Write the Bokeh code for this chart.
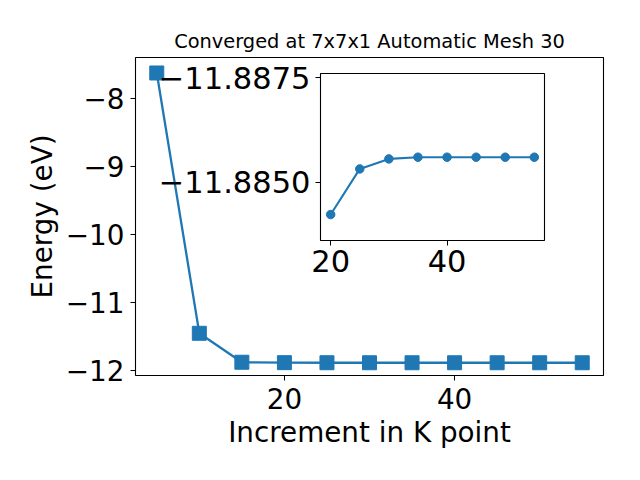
from bokeh.plotting import figure
from bokeh.layouts import row
from bokeh.models import Range1d, FixedTicker, CustomJSTickFormatter
from bokeh.embed import file_html
from bokeh.resources import INLINE

# Data
k_points = [5, 10, 15, 20, 25, 30, 35, 40, 45, 50, 55]
energies = [-7.622, -11.452, -11.878, -11.88423, -11.88532, -11.88556,
            -11.8856, -11.8856, -11.8856, -11.8856, -11.8856]
inset_k = [k for k in k_points if k >= 20]
inset_e = [e for k, e in zip(k_points, energies) if k >= 20]

main_yticks = [-12, -11, -10, -9, -8]
main_xticks = [20, 40]
inset_yticks = [-11.8875, -11.8850]
inset_xticks = [20, 40]

title_text = "Converged at 7x7x1 Automatic Mesh 30"
xlabel = "Increment in K point"
ylabel = "Energy (eV)"

BLUE = "#1f77b4"
FONT = "DejaVu Sans"


def style_axes(fig, tick_px="27.8px"):
    for ax in (fig.xaxis[0], fig.yaxis[0]):
        ax.major_label_text_font = FONT
        ax.major_label_text_font_size = tick_px
        ax.major_label_text_color = "black"
        ax.axis_label_text_font = FONT
        ax.axis_label_text_font_size = "27.8px"
        ax.axis_label_text_font_style = "normal"
        ax.axis_label_text_color = "black"
        ax.major_tick_in = 0
        ax.major_tick_out = 5
        ax.major_tick_line_color = "black"
        ax.major_tick_line_width = 1
        ax.minor_tick_line_color = None
        ax.axis_line_color = None
        ax.major_label_standoff = 5
    fig.xgrid.visible = False
    fig.ygrid.visible = False
    fig.outline_line_color = "black"
    fig.outline_line_width = 1.1
    fig.outline_line_alpha = 1


# Main figure
p = figure(width=624, height=464, output_backend="svg", toolbar_location=None,
           x_range=Range1d(2.5, 57.5), y_range=Range1d(-12.073, -7.394),
           min_border_left=135, min_border_right=21, min_border_top=57,
           min_border_bottom=89)
p.line(k_points, energies, line_color=BLUE, line_width=2.3)
p.scatter(k_points, energies, marker="square", size=14, fill_color=BLUE,
          line_color=BLUE, line_width=1)
style_axes(p)
p.xaxis.ticker = FixedTicker(ticks=main_xticks)
p.yaxis.ticker = FixedTicker(ticks=main_yticks)
fmt0 = CustomJSTickFormatter(code="return (tick < 0 ? '\u2212' : '') + Math.abs(tick).toFixed(0);")
p.yaxis.formatter = fmt0
p.xaxis.formatter = fmt0
p.xaxis.axis_label = xlabel
p.yaxis.axis_label = ylabel
p.xaxis.major_label_standoff = 7
p.yaxis.major_label_standoff = 6
p.xaxis.axis_label_standoff = 4
p.yaxis.axis_label_standoff = 4
p.title.text = title_text
p.title.text_font = FONT
p.title.text_font_size = "19.4px"
p.title.text_font_style = "normal"
p.title.align = "center"
p.title.text_color = "black"
p.border_fill_color = "white"

# Inset figure (borders match main's top/bottom so row alignment is neutral)
inset = figure(width=406, height=313, output_backend="svg", toolbar_location=None,
               x_range=Range1d(18.25, 56.75), y_range=Range1d(-11.88361, -11.8876),
               min_border_left=170, min_border_right=12, min_border_top=57,
               min_border_bottom=89)
inset.line(inset_k, inset_e, line_color=BLUE, line_width=2.1)
inset.scatter(inset_k, inset_e, marker="circle", size=8.5, fill_color=BLUE,
              line_color=BLUE)
style_axes(inset, tick_px="30.5px")
inset.xaxis.major_label_standoff = 4
inset.xaxis.ticker = FixedTicker(ticks=inset_xticks)
inset.yaxis.ticker = FixedTicker(ticks=inset_yticks)
inset.xaxis.formatter = fmt0
inset.yaxis.formatter = CustomJSTickFormatter(
    code="return (tick < 0 ? '\u2212' : '') + Math.abs(tick).toFixed(4);")
inset.border_fill_alpha = 0
inset.background_fill_color = "white"
inset.styles = {"position": "absolute", "left": "150px", "top": "16px"}

layout = row(p, inset)
open("out.html", "w").write(file_html(layout, INLINE))
